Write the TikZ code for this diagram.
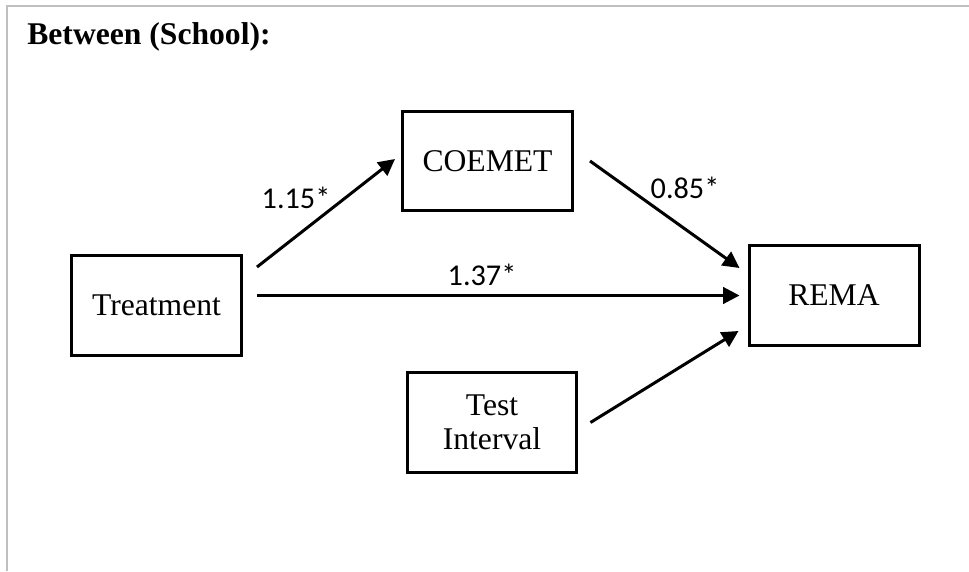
\documentclass[tikz,border=0pt]{standalone}
\usepackage{fontspec}
\setmainfont{Liberation Serif}
\newfontfamily\lblfont{Carlito}
\usetikzlibrary{arrows.meta}
\begin{document}
\begin{tikzpicture}[x=0.02cm, y=-0.02cm,
  varbox/.style={draw=black, line width=0.06cm, minimum width=3.4cm, minimum height=2.0cm,
    align=center, font=\fontsize{18}{19.5}\selectfont},
  path/.style={draw=black, line width=0.06cm, -{Triangle[length=0.33cm, width=0.33cm]}},
  coef/.style={font=\lblfont\fontsize{17.2}{19}\selectfont}]
\useasboundingbox (0,0) rectangle (969,571);
\draw [black!25, line width=0.04cm] (7,571) -- (7,6) -- (969,6);
\node [anchor=base west, inner sep=0pt, font=\fontsize{18}{20}\selectfont\bfseries] (title) at (27,45) {Between (School):};
\node [varbox] (treat) at (156.5,305.5) {Treatment};
\node [varbox] (coemet) at (487.5,161) {COEMET};
\node [varbox] (rema) at (834,295.5) {REMA};
\node [varbox] (interval) at (492,422.5) {Test\\Interval};
\draw [path] ([shift={(14,13)}]treat.north east) -- ([shift={(-6,-2)}]coemet.west);
\draw [path, shorten <=0.28cm, shorten >=0.16cm] (treat.east |- rema.west) -- (rema.west);
\draw [path] ([shift={(16,0)}]coemet.east) -- ([shift={(-8,24)}]rema.north west);
\draw [path] ([shift={(12,0)}]interval.east) -- ([shift={(-9,-16)}]rema.south west);
\node [coef] (b1) at (296,198) {1.15*};
\node [coef] (b2) at (482,275) {1.37*};
\node [coef] (b3) at (685,188) {0.85*};
\end{tikzpicture}
\end{document}
